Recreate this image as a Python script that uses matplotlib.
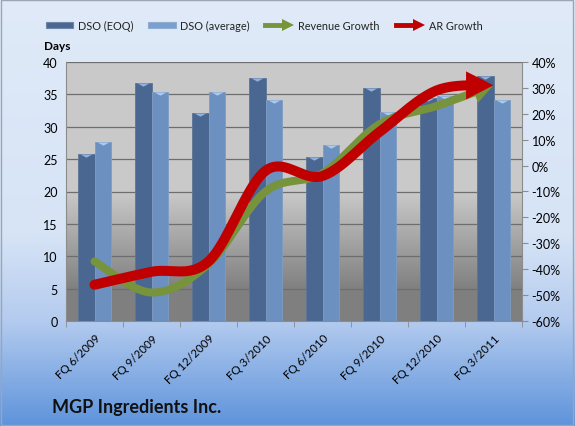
import numpy as np
import matplotlib.pyplot as plt
from matplotlib.lines import Line2D
from matplotlib.patches import Polygon, Rectangle
from matplotlib.transforms import IdentityTransform

quarters = ['FQ 6/2009', 'FQ 9/2009', 'FQ 12/2009', 'FQ 3/2010',
            'FQ 6/2010', 'FQ 9/2010', 'FQ 12/2010', 'FQ 3/2011']
dso_eoq = [25.8, 36.7, 32.2, 37.5, 25.3, 36.0, 34.4, 37.9]
dso_avg = [27.6, 35.3, 35.3, 34.2, 27.2, 32.3, 34.7, 34.1]
revenue_growth = [-37, -49, -38, -10, -3, 16, 23, 31]
ar_growth = [-46, -41, -37, -2, -4, 13, 29, 31]

W, H, DPI = 575, 427, 100
plt.rcParams['font.family'] = ['Lato', 'DejaVu Sans']

fig = plt.figure(figsize=(W / DPI, H / DPI), dpi=DPI)

# figure background gradient (light blue -> blue)
bg = fig.add_axes([0, 0, 1, 1], zorder=-10)
bg.axis('off')
stops = [(0.0, (0.878, 0.918, 0.973)), (0.55, (0.84, 0.894, 0.965)),
         (0.75, (0.71, 0.80, 0.937)), (1.0, (0.37, 0.58, 0.86))]
t = np.linspace(0, 1, 200)
cols = np.array([np.interp(t, [s[0] for s in stops], [s[1][k] for s in stops]) for k in range(3)]).T
bg.imshow(cols[:, None, :], extent=(0, 1, 0, 1), aspect='auto')
bg.set_xlim(0, 1)
bg.set_ylim(0, 1)
bg.add_patch(Rectangle((0.002, 0.003), 0.995, 0.994, fill=False, ec='#9aa6b4', lw=1))

ax = fig.add_axes([66 / W, 1 - 322 / H, 456 / W, 259 / H])
x = np.arange(len(quarters))
ax.set_xlim(-0.5, len(quarters) - 0.5)
ax.set_ylim(0, 40)

# plot area gradient (gray)
pstops = [(0.0, 0.79), (0.5, 0.79), (0.88, 0.50), (1.0, 0.50)]
g = np.interp(t, [s[0] for s in pstops], [s[1] for s in pstops])
ax.imshow(np.repeat(g[:, None, None], 3, axis=2), extent=(-0.5, 7.5, 0, 40),
          aspect='auto', zorder=0)

for v in range(5, 41, 5):
    ax.axhline(v, color='#6e6e6e', lw=0.9, zorder=1)

w = 0.29
ax.bar(x - w / 2, dso_eoq, w, color='#4a6792', edgecolor='#5d7596', lw=0.6, zorder=2)
ax.bar(x + w / 2, dso_avg, w, color='#6c90bf', edgecolor='#7f9cc2', lw=0.6, zorder=2)
cap = [(-1, 0), (1, 0), (0, -0.55)]
ax.scatter(x - w / 2, dso_eoq, marker=cap, s=70, color='#8fb3e0', zorder=3, lw=0)
ax.scatter(x + w / 2, dso_avg, marker=cap, s=70, color='#a9cbf0', zorder=3, lw=0)

ax.set_yticks(range(0, 41, 5))
ax.set_xticks(x)
ax.set_xticklabels(quarters, rotation=45, ha='right', rotation_mode='anchor', fontsize=8.3)
ax.set_xticks(np.arange(-0.5, 8, 1), minor=True)
ax.tick_params(axis='x', which='major', length=0, pad=8)
ax.tick_params(axis='x', which='minor', length=4, color='#8c8c8c')
ax.tick_params(axis='y', length=0, labelsize=9, pad=6)
for s in ['top', 'right']:
    ax.spines[s].set_visible(False)
for s in ['left', 'bottom']:
    ax.spines[s].set_color('#8c8c8c')

ax2 = ax.twinx()
ax2.set_ylim(-60, 40)
ax2.set_yticks(range(-60, 41, 10))
ax2.set_yticklabels([f'{v}%' for v in range(-60, 41, 10)])
ax2.tick_params(axis='y', length=4, color='#8c8c8c', labelsize=9, pad=3)
for s in ['top', 'left', 'bottom']:
    ax2.spines[s].set_visible(False)
ax2.spines['right'].set_color('#8c8c8c')


def smooth_arrow(vals, color, lw_px, head_len, head_half):
    pts = ax2.transData.transform(np.column_stack([x, vals]))
    n = len(pts)
    seg = []
    tt = np.linspace(0, 1, 40)[:, None]
    for i in range(n - 1):
        p0 = pts[max(i - 1, 0)]
        p1, p2 = pts[i], pts[i + 1]
        p3 = pts[min(i + 2, n - 1)]
        c1 = p1 + (p2 - p0) / 6
        c2 = p2 - (p3 - p1) / 6
        b = ((1 - tt) ** 3) * p1 + 3 * ((1 - tt) ** 2) * tt * c1 + 3 * (1 - tt) * tt ** 2 * c2 + tt ** 3 * p2
        seg.append(b if i == 0 else b[1:])
    curve = np.vstack(seg)
    tip = curve[-1]
    d = np.hypot(*(curve - tip).T)
    body = curve[d >= head_len]
    base = body[-1]
    u = (tip - base) / np.hypot(*(tip - base))
    nrm = np.array([-u[1], u[0]])
    fig.add_artist(Line2D(body[:, 0], body[:, 1], transform=IdentityTransform(),
                          color=color, lw=lw_px * 72 / DPI, solid_capstyle='round',
                          solid_joinstyle='round', zorder=5))
    tri = [base + nrm * head_half, tip, base - nrm * head_half]
    fig.add_artist(Polygon(tri, closed=True, transform=IdentityTransform(),
                           color=color, lw=0, zorder=5))


smooth_arrow(revenue_growth, '#77933c', 8, 20, 11)
smooth_arrow(ar_growth, '#c00000', 10, 26, 14)

# legend
ly = 1 - 26 / H
fs = 7.8
fig.add_artist(Rectangle((46 / W, ly - 3 / H), 27 / W, 6 / H, fc='#4a6792', ec='#6f86a8', lw=0.8))
fig.text(78 / W, ly, 'DSO (EOQ)', fontsize=fs, va='center', color='#222222')
fig.add_artist(Rectangle((148 / W, ly - 3 / H), 28 / W, 6 / H, fc='#7aa0d0', ec='#90acd0', lw=0.8))
fig.text(180 / W, ly, 'DSO (average)', fontsize=fs, va='center', color='#222222')
for x0, c, label in [(265, '#77933c', 'Revenue Growth'), (396, '#c00000', 'AR Growth')]:
    fig.add_artist(Line2D([x0 / W, (x0 + 18) / W], [ly, ly], color=c, lw=3.5))
    fig.add_artist(Polygon([((x0 + 17) / W, ly + 6 / H), ((x0 + 29) / W, ly),
                            ((x0 + 17) / W, ly - 6 / H)], closed=True, color=c, lw=0))
    fig.text((x0 + 33) / W, ly, label, fontsize=fs, va='center', color='#222222')

fig.text(57 / W, 1 - 47 / H, 'Days', fontsize=8.5, fontweight='bold', ha='center', va='center')
fig.text(52 / W, 1 - 408 / H, 'MGP Ingredients Inc.', fontsize=13, fontweight='bold',
         va='center', color='#111111')

fig.savefig('out.png', dpi=DPI)
